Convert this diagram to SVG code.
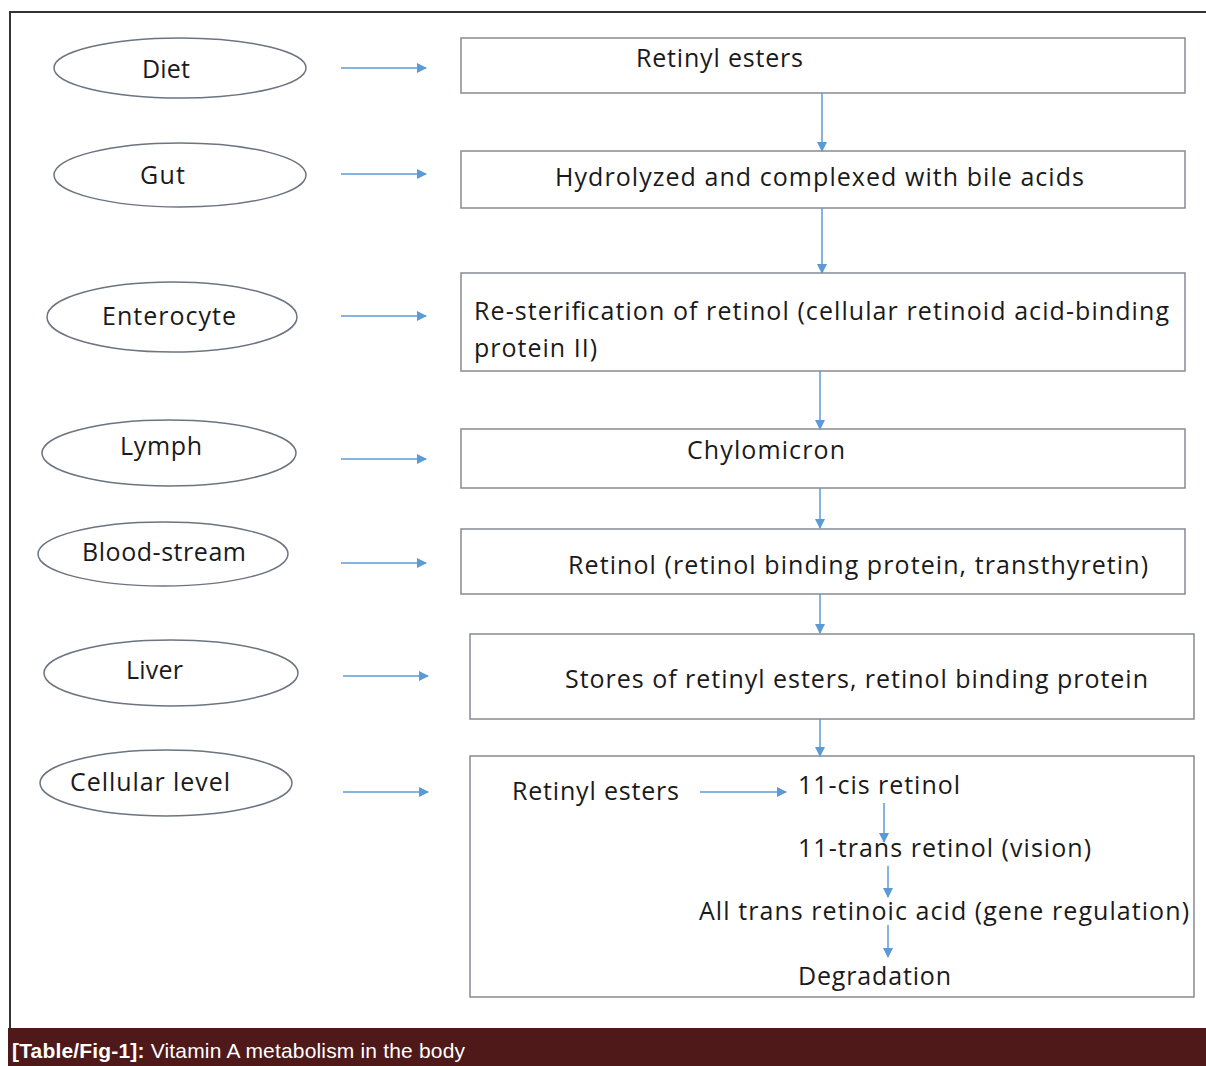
<svg xmlns="http://www.w3.org/2000/svg" width="1206" height="1066" viewBox="0 0 1206 1066">
<defs>
<marker id="ah" viewBox="0 0 10 10" refX="9" refY="5" markerWidth="10" markerHeight="10" markerUnits="userSpaceOnUse" orient="auto">
<path d="M0,0 L10,5 L0,10 z" fill="#5b9bd5"/>
</marker>
<style>
.el{fill:#fff;stroke:#6b7480;stroke-width:1.5}
.bx{fill:#fff;stroke:#868b90;stroke-width:1.5}
.t{font-family:"Open Sans","Noto Sans",sans-serif;font-size:25px;fill:#1a1a1a}
.c line{stroke:#5b9bd5;stroke-width:1.5;marker-end:url(#ah)}
.cap{font-family:"Liberation Sans",Arial,sans-serif;font-size:21px;fill:#fff}
</style>
</defs>
<rect width="1206" height="1066" fill="#fff"/>
<path d="M10,1028 V12 H1206" fill="none" stroke="#333" stroke-width="2"/>
<rect x="8" y="1028" width="1198" height="38" fill="#4f1819"/>
<text class="cap" x="12" y="1058" textLength="453"><tspan font-weight="bold">[Table/Fig-1]:</tspan> Vitamin A metabolism in the body</text>

<g id="diet"><ellipse class="el" cx="180" cy="68" rx="126" ry="30"/><text class="t" x="142" y="78" textLength="48">Diet</text></g>
<g id="gut"><ellipse class="el" cx="180" cy="175" rx="126" ry="32"/><text class="t" x="140" y="184" textLength="45">Gut</text></g>
<g id="enterocyte"><ellipse class="el" cx="172" cy="317" rx="125" ry="35"/><text class="t" x="102" y="325" textLength="134">Enterocyte</text></g>
<g id="lymph"><ellipse class="el" cx="169" cy="453" rx="127" ry="33"/><text class="t" x="120" y="455" textLength="82">Lymph</text></g>
<g id="bloodstream"><ellipse class="el" cx="163" cy="554" rx="125" ry="32"/><text class="t" x="82" y="561" textLength="164">Blood-stream</text></g>
<g id="liver"><ellipse class="el" cx="171" cy="673" rx="127" ry="33"/><text class="t" x="126" y="679" textLength="57">Liver</text></g>
<g id="cellular"><ellipse class="el" cx="166" cy="783" rx="126" ry="33"/><text class="t" x="70" y="791" textLength="160">Cellular level</text></g>

<g id="b1"><rect class="bx" x="461" y="38" width="724" height="55"/><text class="t" x="636" y="67" textLength="167">Retinyl esters</text></g>
<g id="b2"><rect class="bx" x="461" y="151" width="724" height="57"/><text class="t" x="555" y="186" textLength="529">Hydrolyzed and complexed with bile acids</text></g>
<g id="b3"><rect class="bx" x="461" y="273" width="724" height="98"/><text class="t" x="474" y="320" textLength="695">Re-sterification of retinol (cellular retinoid acid-binding</text><text class="t" x="474" y="357" textLength="123">protein II)</text></g>
<g id="b4"><rect class="bx" x="461" y="429" width="724" height="59"/><text class="t" x="687" y="459" textLength="158">Chylomicron</text></g>
<g id="b5"><rect class="bx" x="461" y="529" width="724" height="65"/><text class="t" x="568" y="574" textLength="580">Retinol (retinol binding protein, transthyretin)</text></g>
<g id="b6"><rect class="bx" x="470" y="634" width="724" height="85"/><text class="t" x="565" y="688" textLength="583">Stores of retinyl esters, retinol binding protein</text></g>
<g id="b7"><rect class="bx" x="470" y="756" width="724" height="241"/>
<text class="t" x="512" y="800" textLength="167">Retinyl esters</text>
<text class="t" x="798" y="794" textLength="162">11-cis retinol</text>
<text class="t" x="798" y="857" textLength="293">11-trans retinol (vision)</text>
<text class="t" x="699" y="920" textLength="490">All trans retinoic acid (gene regulation)</text>
<text class="t" x="798" y="985" textLength="153">Degradation</text>
</g>

<g id="connectors" class="c">
<line x1="341" y1="68" x2="426" y2="68"/>
<line x1="341" y1="174" x2="426" y2="174"/>
<line x1="341" y1="316" x2="426" y2="316"/>
<line x1="341" y1="459" x2="426" y2="459"/>
<line x1="341" y1="563" x2="426" y2="563"/>
<line x1="343" y1="676" x2="428" y2="676"/>
<line x1="343" y1="792" x2="428" y2="792"/>
<line x1="822" y1="93" x2="822" y2="151"/>
<line x1="822" y1="208" x2="822" y2="273"/>
<line x1="820" y1="371" x2="820" y2="429"/>
<line x1="820" y1="488" x2="820" y2="528"/>
<line x1="820" y1="594" x2="820" y2="633"/>
<line x1="820" y1="719" x2="820" y2="756"/>
<line x1="700" y1="792" x2="786" y2="792"/>
<line x1="884" y1="803" x2="884" y2="842"/>
<line x1="888" y1="866" x2="888" y2="897"/>
<line x1="888" y1="925" x2="888" y2="957"/>
</g>
</svg>
